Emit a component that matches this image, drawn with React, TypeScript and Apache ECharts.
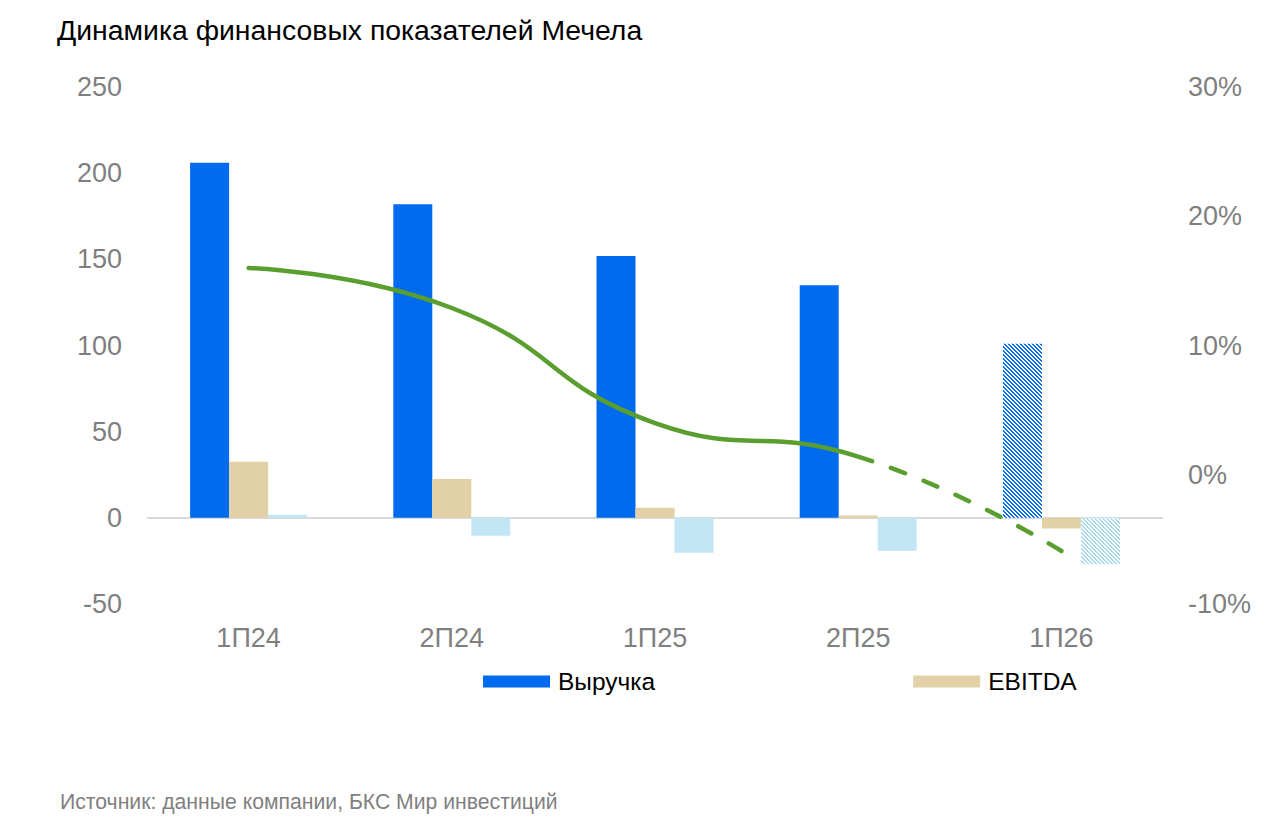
import React, { useEffect, useRef } from "react";
import * as echarts from "echarts";

const categories = ["1П24", "2П24", "1П25", "2П25", "1П26"];
const revenue = [206, 182, 152, 135, 101];
const ebitda = [32.5, 22.6, 5.8, 1.3, -6.2];
const netProfit = [1.8, -10.4, -20.3, -19.1, -26.9];
const margin = [16.0, 12.9, 4.0, 1.4, -5.9];
const forecastFrom = 3; // index where the dashed (forecast) part begins
const leftTicks = { min: -50, max: 250, interval: 50 };
const rightTicks = { min: -10, max: 30, interval: 10 };

const BLUE = "#006BEE";
const BEIGE = "#E2D1A7";
const LIGHT = "#C2E6F5";
const GREEN = "#5A9E2F";
const GREY = "#7F7F7F";
const CLEAR = "rgba(90,158,47,0)";
const FONT = "'Liberation Sans', Arial, sans-serif";

function stripe(color: string): HTMLCanvasElement {
  const c = document.createElement("canvas");
  c.width = 4;
  c.height = 4;
  const ctx = c.getContext("2d")!;
  ctx.fillStyle = "#ffffff";
  ctx.fillRect(0, 0, 4, 4);
  ctx.fillStyle = color;
  for (let i = 0; i < 4; i++) {
    ctx.fillRect(i, i, 1, 1);
    ctx.fillRect((i + 1) % 4, i, 1, 1);
  }
  return c;
}

function split(before: string, after: string, t: number) {
  return {
    type: "linear",
    x: 0,
    y: 0,
    x2: 1,
    y2: 0,
    colorStops: [
      { offset: 0, color: before },
      { offset: t, color: before },
      { offset: t, color: after },
      { offset: 1, color: after },
    ],
  };
}

export default function App() {
  const ref = useRef<HTMLDivElement>(null);
  useEffect(() => {
    if (!ref.current) return;
    const chart = echarts.init(ref.current, undefined, { renderer: "svg" });
    const last = categories.length - 1;
    const t = (forecastFrom + 0.07) / last;
    const blueHatch = { image: stripe(BLUE), repeat: "repeat" };
    const lightHatch = { image: stripe("#A9DCF2"), repeat: "repeat" };
    // drawn from the last point backwards so the dash pattern starts at the end
    const marginReversed = margin.map((v, i) => [i, v]).reverse();
    chart.setOption({
      animation: false,
      textStyle: { fontFamily: FONT },
      title: {
        text: "Динамика финансовых показателей Мечела",
        left: 52,
        top: 11,
        textStyle: { fontFamily: FONT, fontSize: 28.4, fontWeight: "normal", color: "#000" },
      },
      graphic: [
        {
          type: "text",
          left: 60,
          top: 791,
          style: {
            text: "Источник: данные компании, БКС Мир инвестиций",
            fontFamily: FONT,
            fontSize: 21.2,
            fill: GREY,
          },
        },
      ],
      legend: {
        data: ["Выручка", "EBITDA"],
        left: 483,
        top: 669,
        padding: 0,
        icon: "rect",
        itemWidth: 67,
        itemHeight: 12,
        itemGap: 258,
        textStyle: { fontFamily: FONT, fontSize: 24.5, color: "#000", padding: [0, 0, 0, 3] },
      },
      grid: { left: 147, right: 117, top: 87, bottom: 214, containLabel: false },
      xAxis: {
        type: "category",
        data: categories,
        axisLine: { show: false },
        axisTick: { show: false },
        axisLabel: { fontFamily: FONT, fontSize: 27, color: GREY, margin: 20 },
      },
      yAxis: [
        {
          type: "value",
          min: leftTicks.min,
          max: leftTicks.max,
          interval: leftTicks.interval,
          splitLine: { show: false },
          axisLine: { show: false },
          axisTick: { show: false },
          axisLabel: { fontFamily: FONT, fontSize: 27, color: GREY, margin: 25 },
        },
        {
          type: "value",
          min: rightTicks.min,
          max: rightTicks.max,
          interval: rightTicks.interval,
          splitLine: { show: false },
          axisLine: { show: false },
          axisTick: { show: false },
          axisLabel: {
            fontFamily: FONT,
            fontSize: 27,
            color: GREY,
            margin: 25,
            formatter: "{value}%",
          },
        },
      ],
      series: [
        {
          name: "Выручка",
          type: "bar",
          barWidth: 39,
          barGap: "0%",
          itemStyle: { color: BLUE },
          data: revenue.map((v, i) => (i === last ? { value: v, itemStyle: { color: blueHatch } } : v)),
          markLine: {
            silent: true,
            symbol: "none",
            label: { show: false },
            lineStyle: { color: "#D9D9D9", width: 2, type: "solid" },
            data: [{ yAxis: 0 }],
            z: 1,
          },
        },
        {
          name: "EBITDA",
          type: "bar",
          barWidth: 39,
          barGap: "0%",
          itemStyle: { color: BEIGE },
          data: ebitda,
        },
        {
          name: "Чистая прибыль",
          type: "bar",
          barWidth: 39,
          barGap: "0%",
          itemStyle: { color: LIGHT },
          data: netProfit.map((v, i) => (i === last ? { value: v, itemStyle: { color: lightHatch } } : v)),
        },
        {
          name: "Рентабельность",
          type: "line",
          yAxisIndex: 1,
          smooth: 0.5,
          symbol: "none",
          lineStyle: { color: split(GREEN, CLEAR, t), width: 4.5, cap: "round" },
          data: margin,
          z: 5,
        },
        {
          name: "Рентабельность прогноз",
          type: "line",
          yAxisIndex: 1,
          smooth: 0.5,
          symbol: "none",
          lineStyle: { color: split(CLEAR, GREEN, t), width: 4.5, type: [15, 20], cap: "round" },
          data: marginReversed,
          z: 5,
        },
      ],
    });
    return () => chart.dispose();
  }, []);
  return (
    <div
      ref={ref}
      style={{ position: "absolute", left: 0, top: 0, width: 1280, height: 818, background: "#fff" }}
    />
  );
}
